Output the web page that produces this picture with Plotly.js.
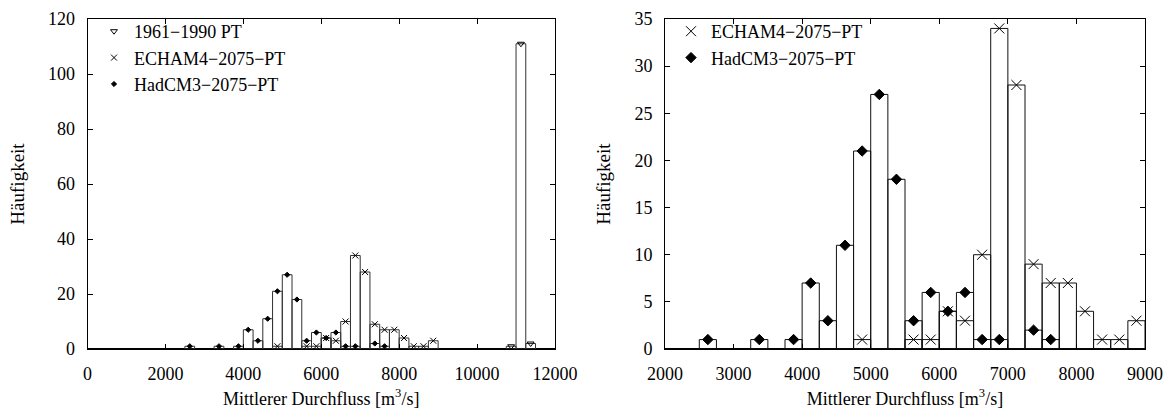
<!DOCTYPE html>
<html>
<head>
<meta charset="utf-8">
<script src="https://cdn.plot.ly/plotly-3.0.1.min.js"></script>
<style>html,body{margin:0;padding:0;background:#fff;}#chart{width:1166px;height:409px;}</style>
</head>
<body>
<div id="chart"></div>
<script>
// Bin centres (bin width 250 m3/s) and counts
const binWidth = 250;
const refX   = [10875, 11125, 11375];
const refY   = [1, 111, 2];
const echamX = [4875, 5625, 5875, 6125, 6375, 6625, 6875, 7125, 7375, 7625, 7875, 8125, 8375, 8625, 8875];
const echamY = [1, 1, 1, 4, 3, 10, 34, 28, 9, 7, 7, 4, 1, 1, 3];
const hadX   = [2625, 3375, 3875, 4125, 4375, 4625, 4875, 5125, 5375, 5625, 5875, 6125, 6375, 6625, 6875, 7375, 7625];
const hadY   = [1, 1, 1, 7, 3, 11, 21, 27, 18, 3, 6, 4, 6, 1, 1, 2, 1];

const names = {ref: '1961\u22121990 PT', echam: 'ECHAM4\u22122075\u2212PT', had: 'HadCM3\u22122075\u2212PT'};
const FONT = 'Liberation Serif, Times New Roman, serif';

function bars(x, y, xa, ya, lc) {
  return {type: 'bar', x: x, y: y, width: x.map(() => binWidth), xaxis: xa, yaxis: ya,
    marker: {color: 'rgba(0,0,0,0)', line: {color: lc, width: 1}}, showlegend: false, hoverinfo: 'skip'};
}
function pts(x, y, xa, ya, name, symbol, size, legend, show) {
  return {type: 'scatter', mode: 'markers', x: x, y: y, xaxis: xa, yaxis: ya, name: name,
    legend: legend, showlegend: show,
    marker: {symbol: symbol, size: size, color: '#000', line: {color: '#000', width: 1}}};
}

const traces = [
  bars(refX, refY, 'x', 'y', '#333'),
  bars(echamX, echamY, 'x', 'y', '#333'),
  bars(hadX, hadY, 'x', 'y', '#333'),
  pts(refX, refY, 'x', 'y', names.ref, 'triangle-down-open', 6, 'legend', true),
  pts(echamX, echamY, 'x', 'y', names.echam, 'x-thin-open', 6, 'legend', true),
  pts(hadX, hadY, 'x', 'y', names.had, 'diamond', 4, 'legend', true),
  bars(echamX, echamY, 'x2', 'y2', '#111'),
  bars(hadX, hadY, 'x2', 'y2', '#111'),
  pts(echamX, echamY, 'x2', 'y2', names.echam, 'x-thin-open', 10, 'legend2', true),
  pts(hadX, hadY, 'x2', 'y2', names.had, 'diamond', 8, 'legend2', true)
];

const W = 1166, H = 409;
const axisCommon = {
  showline: true, linecolor: '#000', linewidth: 1, mirror: 'ticks',
  ticks: 'inside', ticklen: 5, tickwidth: 1, tickcolor: '#000',
  showgrid: false, zeroline: false, fixedrange: true,
  tickformat: 'd', separatethousands: false, exponentformat: 'none',
  tickfont: {family: FONT, size: 18, color: '#000'}, ticklabelstandoff: 8
};
const yCommon = Object.assign({}, axisCommon, {zeroline: true, zerolinecolor: '#000', zerolinewidth: 2,
  title: {text: 'Häufigkeit', font: {family: FONT, size: 19, color: '#000'}, standoff: 18}});
const xTitle = {text: 'Mittlerer Durchfluss [m<sup>3</sup>/s]', font: {family: FONT, size: 18, color: '#000'}, standoff: 9};

const yTop = 1 - 19 / H, yBot = 1 - 349 / H;
const legendFont = {family: FONT, size: 18, color: '#000'};
const layout = {
  width: W, height: H,
  margin: {l: 0, r: 0, t: 0, b: 0},
  paper_bgcolor: '#fff', plot_bgcolor: '#fff',
  barmode: 'overlay', bargap: 0,
  font: {family: FONT, size: 18, color: '#000'},
  xaxis: Object.assign({}, axisCommon, {domain: [87.5 / W, 555 / W], range: [0, 12000], dtick: 2000, tick0: 0, anchor: 'y', title: xTitle}),
  yaxis: Object.assign({}, yCommon, {domain: [yBot, yTop], range: [0, 120], dtick: 20, tick0: 0, anchor: 'x'}),
  xaxis2: Object.assign({}, axisCommon, {domain: [665 / W, 1145 / W], range: [2000, 9000], dtick: 1000, tick0: 0, anchor: 'y2', title: xTitle}),
  yaxis2: Object.assign({}, yCommon, {domain: [yBot, yTop], range: [0, 35], dtick: 5, tick0: 0, anchor: 'x2'}),
  legend: {x: 94 / W, y: 1 - 13 / H, xanchor: 'left', yanchor: 'top', bgcolor: 'rgba(0,0,0,0)',
    font: legendFont, tracegroupgap: 0},
  legend2: {x: 671 / W, y: 1 - 13 / H, xanchor: 'left', yanchor: 'top', bgcolor: 'rgba(0,0,0,0)',
    font: legendFont, tracegroupgap: 0},
  showlegend: true
};

Plotly.newPlot('chart', traces, layout, {staticPlot: true, displayModeBar: false});
</script>
</body>
</html>
